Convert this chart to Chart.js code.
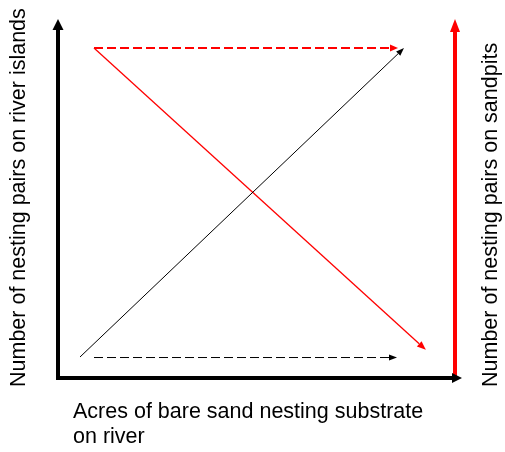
<!DOCTYPE html>
<html>
<head>
<meta charset="utf-8">
<script src="https://cdn.jsdelivr.net/npm/chart.js@4"></script>
<style>
  body { margin: 0; background: #fff; }
  #wrap { width: 505px; height: 452px; }
</style>
</head>
<body>
<div id="wrap"><canvas id="diagram"></canvas></div>
<script>
// conceptual diagram, both axes run 0..100 (no numbers shown)
const islandsAxis = [{x: 0, y: 0}, {x: 0, y: 96.7}];
const sandAxis = [{x: 0, y: 0}, {x: 98.5, y: 0}];
const sandpitsAxis = [{x: 99.25, y: 0}, {x: 99.25, y: 96.1}];

const islandsTrend = [{x: 5.5, y: 5.83}, {x: 85.05, y: 90.1}];
const islandsFlat = [{x: 9, y: 5.69}, {x: 82.75, y: 5.69}];
const sandpitsFlat = [{x: 9, y: 91.67}, {x: 83, y: 91.67}];
const sandpitsTrend = [{x: 9, y: 91.67}, {x: 90.3, y: 9.5}];

const leftTitle = 'Number of nesting pairs on river islands';
const rightTitle = 'Number of nesting pairs on sandpits';
const bottomTitle = ['Acres of bare sand nesting substrate', 'on river'];

const font = '21.5px "Liberation Sans", Arial, sans-serif';

function line(data, color, width, dash, arrow) {
    return {
        data: data,
        showLine: true,
        borderColor: color,
        backgroundColor: color,
        borderWidth: width,
        borderDash: dash || [],
        borderCapStyle: width > 2 ? 'square' : 'butt',
        pointRadius: 0,
        clip: false,
        arrow: arrow
    };
}

// draws arrow heads past the last point of each line, and the axis texts
const extras = {
    id: 'extras',
    afterDatasetsDraw(chart) {
        const ctx = chart.ctx;
        chart.data.datasets.forEach((ds, i) => {
            const pts = chart.getDatasetMeta(i).data;
            const a = pts[pts.length - 2], b = pts[pts.length - 1];
            const dx = b.x - a.x, dy = b.y - a.y;
            const d = Math.hypot(dx, dy);
            const ux = dx / d, uy = dy / d;
            const len = ds.arrow[0], half = ds.arrow[1] / 2;
            ctx.save();
            ctx.fillStyle = ds.borderColor;
            ctx.beginPath();
            ctx.moveTo(b.x + ux * len, b.y + uy * len);
            ctx.lineTo(b.x - uy * half, b.y + ux * half);
            ctx.lineTo(b.x + uy * half, b.y - ux * half);
            ctx.closePath();
            ctx.fill();
            ctx.restore();
        });

        ctx.save();
        ctx.fillStyle = '#000';
        ctx.font = font;
        ctx.textBaseline = 'alphabetic';
        ctx.textAlign = 'left';
        ctx.fillText(bottomTitle[0], 73, 418);
        ctx.fillText(bottomTitle[1], 73, 443);

        ctx.translate(25, 387);
        ctx.rotate(-Math.PI / 2);
        ctx.fillText(leftTitle, 0, 0);
        ctx.restore();

        ctx.save();
        ctx.fillStyle = '#000';
        ctx.font = font;
        ctx.translate(497, 387);
        ctx.rotate(-Math.PI / 2);
        ctx.fillText(rightTitle, 0, 0);
        ctx.restore();
    }
};

new Chart(document.getElementById('diagram'), {
    type: 'scatter',
    data: {
        datasets: [
            line(sandpitsAxis, '#ff0000', 4, null, [13, 10]),
            line(sandAxis, '#000000', 4, null, [10, 10]),
            line(islandsAxis, '#000000', 4, null, [11, 11]),
            line(islandsTrend, '#000000', 1, null, [8, 6]),
            line(islandsFlat, '#000000', 1, [9, 4], [8, 6]),
            line(sandpitsFlat, '#ff0000', 2, [9, 4], [8, 7]),
            line(sandpitsTrend, '#ff0000', 1.3, null, [9, 7])
        ]
    },
    options: {
        responsive: true,
        maintainAspectRatio: false,
        animation: false,
        layout: { padding: { left: 58, right: 47, top: 18, bottom: 74 } },
        scales: {
            x: { type: 'linear', min: 0, max: 100, display: false },
            y: { type: 'linear', min: 0, max: 100, display: false }
        },
        plugins: {
            legend: { display: false },
            tooltip: { enabled: false }
        }
    },
    plugins: [extras]
});
</script>
</body>
</html>
